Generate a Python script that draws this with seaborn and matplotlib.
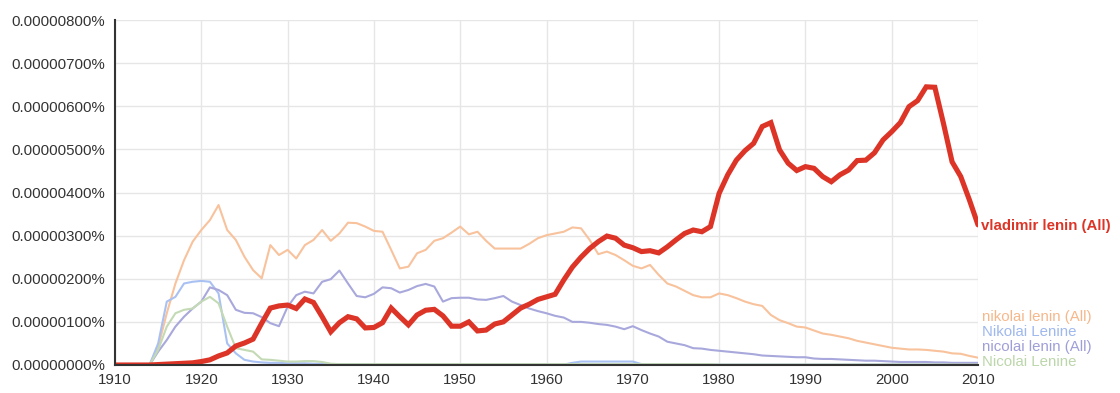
import numpy as np
import pandas as pd
import matplotlib
matplotlib.use("Agg")
import matplotlib.pyplot as plt
import matplotlib.transforms as mtransforms
from matplotlib.ticker import FuncFormatter, MultipleLocator
import seaborn as sns

years = list(range(1910, 2011))

# values in units of 0.000001 %
vladimir_lenin_all = [
    0, 0, 0, 0, 0, 0.01, 0.02, 0.03, 0.04, 0.05,
    0.08, 0.12, 0.21, 0.28, 0.44, 0.51, 0.60, 0.97, 1.32, 1.37,
    1.39, 1.31, 1.53, 1.45, 1.12, 0.77, 0.98, 1.12, 1.07, 0.86,
    0.87, 0.98, 1.32, 1.12, 0.93, 1.16, 1.27, 1.29, 1.14, 0.90,
    0.90, 1.00, 0.79, 0.81, 0.95, 1.00, 1.16, 1.32, 1.41, 1.52,
    1.58, 1.64, 1.97, 2.27, 2.50, 2.70, 2.86, 2.99, 2.94, 2.78,
    2.72, 2.63, 2.65, 2.60, 2.74, 2.90, 3.05, 3.13, 3.09, 3.21,
    3.98, 4.41, 4.75, 4.97, 5.14, 5.53, 5.62, 4.99, 4.68, 4.51,
    4.60, 4.56, 4.37, 4.25, 4.41, 4.52, 4.74, 4.75, 4.92, 5.22,
    5.41, 5.62, 5.99, 6.13, 6.45, 6.44, 5.60, 4.71, 4.37, 3.83,
    3.25,
]

nikolai_lenin_all = [
    0, 0, 0, 0, 0, 0.42, 1.20, 1.89, 2.43, 2.86,
    3.13, 3.36, 3.71, 3.13, 2.90, 2.51, 2.20, 2.01, 2.78, 2.55,
    2.67, 2.47, 2.78, 2.90, 3.13, 2.88, 3.05, 3.30, 3.29, 3.21,
    3.11, 3.09, 2.67, 2.24, 2.28, 2.59, 2.67, 2.88, 2.94, 3.07,
    3.21, 3.03, 3.09, 2.88, 2.70, 2.70, 2.70, 2.70, 2.81, 2.94,
    3.01, 3.05, 3.09, 3.19, 3.17, 2.90, 2.57, 2.63, 2.55, 2.43,
    2.30, 2.24, 2.32, 2.09, 1.89, 1.82, 1.72, 1.62, 1.57, 1.57,
    1.66, 1.62, 1.55, 1.47, 1.41, 1.37, 1.16, 1.04, 0.97, 0.89,
    0.87, 0.80, 0.73, 0.70, 0.66, 0.62, 0.56, 0.52, 0.48, 0.44,
    0.40, 0.38, 0.36, 0.36, 0.35, 0.33, 0.31, 0.27, 0.26, 0.21,
    0.17,
]

Nikolai_Lenine = [
    0, 0, 0, 0, 0, 0.50, 1.47, 1.58, 1.89, 1.93,
    1.95, 1.93, 1.66, 0.50, 0.27, 0.12, 0.08, 0.06, 0.05, 0.05,
    0.04, 0.04, 0.04, 0.03, 0.03, 0.02, 0.02, 0.02, 0.02, 0.02,
    0.01, 0.01, 0.01, 0.01, 0.01, 0.01, 0.01, 0.01, 0.01, 0.01,
    0.01, 0.01, 0.01, 0.01, 0.01, 0.01, 0.01, 0.01, 0.01, 0.01,
    0.01, 0.01, 0.01, 0.05, 0.08, 0.08, 0.08, 0.08, 0.08, 0.08,
    0.08, 0.02, 0.01, 0.01, 0.01, 0.01, 0.01, 0.01, 0.01, 0.01,
    0.01, 0.01, 0.01, 0.01, 0.01, 0.01, 0.01, 0.01, 0.01, 0.01,
    0.01, 0.01, 0.01, 0.01, 0.01, 0.01, 0.01, 0.01, 0.01, 0.01,
    0.01, 0.01, 0.01, 0.01, 0.01, 0.01, 0.01, 0.01, 0.01, 0.01,
    0.01,
]

nicolai_lenin_all = [
    0, 0, 0, 0, 0, 0.31, 0.58, 0.89, 1.12, 1.31,
    1.47, 1.80, 1.74, 1.62, 1.28, 1.21, 1.20, 1.11, 0.97, 0.90,
    1.35, 1.62, 1.70, 1.66, 1.93, 1.99, 2.19, 1.89, 1.60, 1.57,
    1.65, 1.80, 1.78, 1.68, 1.74, 1.83, 1.88, 1.82, 1.47, 1.55,
    1.56, 1.56, 1.52, 1.51, 1.55, 1.60, 1.47, 1.39, 1.31, 1.25,
    1.20, 1.14, 1.10, 1.00, 1.00, 0.98, 0.95, 0.93, 0.89, 0.83,
    0.90, 0.81, 0.73, 0.66, 0.54, 0.50, 0.46, 0.39, 0.38, 0.35,
    0.33, 0.31, 0.29, 0.27, 0.25, 0.22, 0.21, 0.20, 0.19, 0.18,
    0.18, 0.15, 0.14, 0.14, 0.13, 0.12, 0.11, 0.10, 0.10, 0.09,
    0.08, 0.07, 0.07, 0.07, 0.07, 0.06, 0.06, 0.05, 0.05, 0.05,
    0.05,
]

Nicolai_Lenine = [
    0, 0, 0, 0, 0, 0.35, 0.89, 1.20, 1.28, 1.31,
    1.47, 1.58, 1.43, 0.89, 0.39, 0.35, 0.31, 0.13, 0.12, 0.10,
    0.08, 0.08, 0.09, 0.09, 0.07, 0.03, 0.02, 0.02, 0.02, 0.02,
    0.02, 0.02, 0.02, 0.02, 0.02, 0.02, 0.02, 0.02, 0.02, 0.02,
    0.02, 0.02, 0.02, 0.02, 0.02, 0.02, 0.02, 0.02, 0.02, 0.02,
    0.02, 0.02, 0.02, 0.02, 0.02, 0.02, 0.02, 0.02, 0.02, 0.02,
    0.02, 0.02, 0.02, 0.02, 0.02, 0.02, 0.02, 0.02, 0.02, 0.02,
    0.01, 0.01, 0.01, 0.01, 0.01, 0.01, 0.01, 0.01, 0.01, 0.01,
    0.01, 0.01, 0.01, 0.01, 0.01, 0.01, 0.01, 0.01, 0.01, 0.01,
    0.01, 0.01, 0.01, 0.01, 0.01, 0.01, 0.01, 0.01, 0.01, 0.01,
    0.01,
]

series_names = ["nikolai lenin (All)", "Nikolai Lenine", "nicolai lenin (All)",
                "Nicolai Lenine", "vladimir lenin (All)"]
series_values = [nikolai_lenin_all, Nikolai_Lenine, nicolai_lenin_all,
                 Nicolai_Lenine, vladimir_lenin_all]
series_colors = ["#f8c29c", "#a9c1f2", "#a8a8dc", "#c3dab5", "#dc3426"]
series_widths = [1.5, 1.5, 1.5, 1.5, 3.7]
label_colors = ["#f5b88c", "#9fb8ee", "#9f9fd8", "#bcd6ab", "#dc3426"]

UNIT = 1e-6  # percent

sns.set_theme(style="white")
plt.rcParams['font.family'] = ['Liberation Sans', 'DejaVu Sans']

fig = plt.figure(figsize=(11.2, 3.93), dpi=100)
ax = fig.add_axes([115 / 1120, 28 / 393, (978 - 115) / 1120, (365 - 20) / 393])

for name, vals, col, lw in zip(series_names, series_values, series_colors, series_widths):
    df = pd.DataFrame({"year": years, "value": np.array(vals) * UNIT})
    sns.lineplot(data=df, x="year", y="value", ax=ax, color=col, linewidth=lw,
                 solid_joinstyle="miter" if lw > 2 else "round")

ax.set_xlim(1910, 2010)
ax.set_ylim(0, 8 * UNIT)
ax.xaxis.set_major_locator(MultipleLocator(10))
ax.yaxis.set_major_locator(MultipleLocator(1 * UNIT))
ax.yaxis.set_major_formatter(FuncFormatter(lambda v, p: f"{v:.8f}%"))
ax.set_xlabel("")
ax.set_ylabel("")

ax.grid(True, color="#e6e6e6", linewidth=1.0)
ax.set_axisbelow(True)
for s in ["top", "right"]:
    ax.spines[s].set_visible(False)
for s in ["left", "bottom"]:
    ax.spines[s].set_color("#333333")
    ax.spines[s].set_linewidth(1.5)
ax.tick_params(axis="both", which="major", direction="out", length=5, width=1.3,
               color="#333333", labelcolor="#333333", labelsize=10.8, pad=2)
ax.tick_params(axis="x", pad=1)

# labels at the right end
trans = mtransforms.blended_transform_factory(ax.transData, ax.transAxes)
ax.annotate(series_names[4], xy=(years[-1], vladimir_lenin_all[-1] * UNIT),
            xytext=(2, -1), textcoords="offset points", va="center", ha="left",
            color=label_colors[4], fontsize=10.8, fontweight="bold",
            annotation_clip=False)
stack_y = [0.138, 0.096, 0.052, 0.008]
for name, col, yy in zip(series_names[:4], label_colors[:4], stack_y):
    ax.text(years[-1], yy, name, transform=trans + mtransforms.ScaledTranslation(3 / 72, 0, fig.dpi_scale_trans),
            color=col, fontsize=10.8, va="center", ha="left", clip_on=False)

fig.savefig("out.png", dpi=100)
